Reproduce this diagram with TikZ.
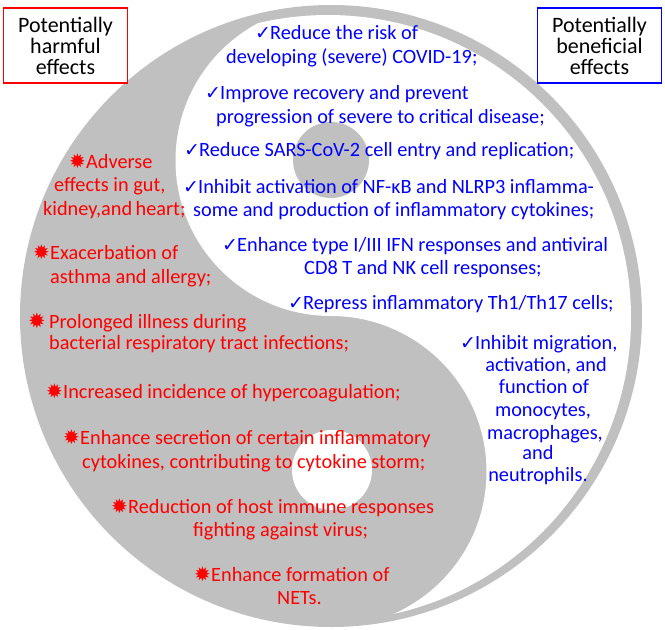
\documentclass[tikz,border=0pt]{standalone}
\usepackage{fontspec}
\setmainfont{Carlito}
\newfontfamily\dv{DejaVu Sans}
\newfontfamily\dvb{DejaVu Sans Bold}
\definecolor{ygray}{RGB}{192,192,192}
\definecolor{tblue}{RGB}{0,0,255}
\definecolor{tred}{RGB}{255,0,0}
\newcommand\bchk{\llap{\makebox[15pt][l]{\dv\fontsize{19}{19}\selectfont ✓}}}
\newcommand\rstar{\llap{\makebox[17pt][l]{\dv\fontsize{20}{20}\selectfont ✹}}}
\newcommand\rstarw{\llap{\makebox[21pt][l]{\dv\fontsize{21}{21}\selectfont ✹}}}
\tikzset{
  btxt/.style={text=tblue, inner sep=0pt, font=\fontsize{20.3}{24}\selectfont, anchor=base west},
  btxtc/.style={btxt, anchor=base},
  rtxt/.style={text=tred, inner sep=0pt, font=\fontsize{20.3}{24}\selectfont, anchor=base west},
  legbox/.style={fill=white, line width=1.3pt, minimum width=124pt, minimum height=75pt,
    inner sep=0pt, align=center, font=\fontsize{22}{21}\selectfont}
}
\begin{document}
\begin{tikzpicture}[x=1pt,y=-1pt]
\useasboundingbox (0,0) rectangle (665,630);
% yin-yang
\fill[ygray] (331,316) circle (311);
\begin{scope}
  \clip (328,318) circle (303);
  \fill[white] (331,5) arc[start angle=-90, end angle=90, radius=311]
    arc[start angle=90, end angle=-90, radius=155.5]
    arc[start angle=90, end angle=270, radius=155.5] -- cycle;
\end{scope}
\fill[ygray] (331,160) circle (38);
\fill[white] (332,470) circle (40);
% legend boxes
\node[legbox, draw=tred] (harm) at (65.5,45.5) {Potentially\\harmful\\effects};
\node[legbox, draw=tblue] (bene) at (599.5,45.5) {Potentially\\beneficial\\effects};
% beneficial
\node[btxt] (b1a) at (270,39) {\bchk Reduce the risk of};
\node[btxt] (b1b) at (226,63) {developing (severe) COVID-19;};
\node[btxt] (b2a) at (220,99) {\bchk Improve recovery and prevent};
\node[btxt] (b2b) at (216,123) {progression of severe to critical disease;};
\node[btxt] (b3) at (199,156) {\bchk Reduce SARS-CoV-2 cell entry and replication;};
\node[btxt] (b4a) at (198,193) {\bchk Inhibit activation of NF-κB and NLRP3 inflamma-};
\node[btxt] (b4b) at (193,216) {some and production of inflammatory cytokines;};
\node[btxt] (b5a) at (237,251) {\bchk Enhance type I/III IFN responses and antiviral};
\node[btxt] (b5b) at (304,274) {CD8 T and NK cell responses;};
\node[btxt] (b6) at (303,309) {\bchk Repress inflammatory Th1/Th17 cells;};
\node[btxt] (b7a) at (475,349) {\bchk Inhibit migration,};
\node[btxtc] (b7b) at (546,371) {activation, and};
\node[btxtc] (b7c) at (544,393) {function of};
\node[btxtc] (b7d) at (543,416) {monocytes,};
\node[btxtc] (b7e) at (545,439) {macrophages,};
\node[btxtc] (b7f) at (538,459) {and};
\node[btxtc] (b7g) at (538,481) {neutrophils.};
% harmful
\node[rtxt] (r1a) at (86,168) {\rstar Adverse};
\node[rtxt] (r1b) at (54,191) {effects in gut,};
\node[rtxt] (r1c) at (43,215) {kidney,and\,heart;};
\node[rtxt] (r2a) at (50,259) {\rstar Exacerbation of};
\node[rtxt] (r2b) at (50,283) {asthma and allergy;};
\node[rtxt] (r3a) at (49,328) {\rstarw Prolonged illness during};
\node[rtxt] (r3b) at (49,349) {bacterial respiratory tract infections;};
\node[rtxt] (r4) at (63,398) {\rstar Increased incidence of hypercoagulation;};
\node[rtxt] (r5a) at (80,444) {\rstar Enhance secretion of certain inflammatory};
\node[rtxt] (r5b) at (82,468) {cytokines, contributing to cytokine storm;};
\node[rtxt] (r6a) at (128,513) {\rstar Reduction of host immune responses};
\node[rtxt] (r6b) at (193,536) {fighting against virus;};
\node[rtxt] (r7a) at (211,581) {\rstar Enhance formation of};
\node[rtxt] (r7b) at (277,604) {NETs.};
\end{tikzpicture}
\end{document}
